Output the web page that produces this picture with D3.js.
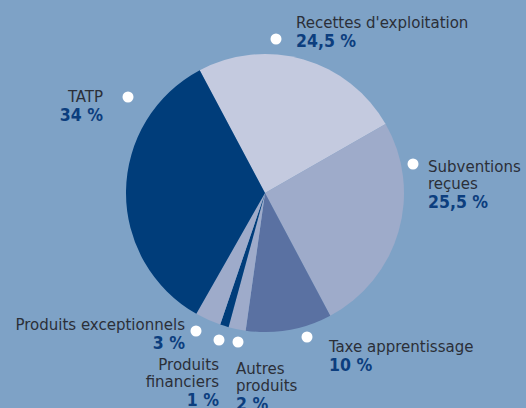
<!DOCTYPE html>
<html><head><meta charset="utf-8">
<script src="https://cdn.jsdelivr.net/npm/d3@7"></script>
<style>html,body{margin:0;padding:0;background:#7ea2c6;}svg{display:block;}</style>
</head><body>
<script>
const categories = ["Recettes  d'exploitation","Subventions reçues","Taxe apprentissage","Autres produits","Produits financiers","Produits exceptionnels","TATP"];
const values = [24.5, 25.5, 10, 2, 1, 3, 34];
const valueLabels = ["24,5 %","25,5 %","10 %","2 %","1 %","3 %","34 %"];
const colors = ["#c4cadf","#9eabca","#5a71a2","#9eabca","#003d7a","#9eabca","#003d7a"];

// label layout (positions only)
const layout = [
  {lines:["Recettes  d'exploitation"], x:296, y:28, anchor:"start", dot:[276,39]},
  {lines:["Subventions","reçues"], x:428, y:172, anchor:"start", dot:[413,164]},
  {lines:["Taxe apprentissage"], x:329, y:352, anchor:"start", dot:[307,337]},
  {lines:["Autres","produits"], x:236, y:374, anchor:"start", dot:[238,342]},
  {lines:["Produits","financiers"], x:219, y:370, anchor:"end", dot:[219,340]},
  {lines:["Produits exceptionnels"], x:185, y:330, anchor:"end", dot:[196,331]},
  {lines:["TATP"], x:103, y:102, anchor:"end", dot:[128,97]}
];

const W=526,H=408, cx=265, cy=193, R=139;
const svg=d3.select("body").append("svg").attr("width",W).attr("height",H);
svg.append("rect").attr("width",W).attr("height",H).attr("fill","#7ea2c6");

const start=-28*Math.PI/180;
const pie=d3.pie().sort(null).startAngle(start).endAngle(start+2*Math.PI);
const arc=d3.arc().innerRadius(0).outerRadius(R);
const g=svg.append("g").attr("transform",`translate(${cx},${cy})`);
g.selectAll("path").data(pie(values)).join("path")
  .attr("d",arc).attr("fill",(d,i)=>colors[i]);

const font="'DejaVu Sans Condensed','DejaVu Sans',sans-serif";
layout.forEach((L,i)=>{
  svg.append("circle").attr("cx",L.dot[0]).attr("cy",L.dot[1]).attr("r",5.5).attr("fill","#ffffff");
  const t=svg.append("text").attr("x",L.x).attr("y",L.y).attr("text-anchor",L.anchor)
    .attr("font-family",font).attr("font-size",16.7);
  L.lines.forEach((ln,j)=>{
    t.append("tspan").attr("x",L.x).attr("dy",j===0?0:17).attr("fill","#2b2f38").text(ln);
  });
  t.append("tspan").attr("x",L.x).attr("dy",18.5).attr("fill","#0c3e7e")
    .attr("font-weight","bold").attr("font-size",17.5).text(valueLabels[i]);
});
</script>
</body></html>
